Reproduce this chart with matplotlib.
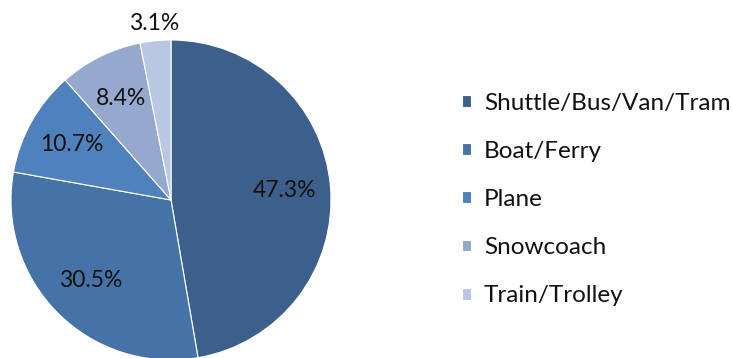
import matplotlib.pyplot as plt
import numpy as np

modes = ['Shuttle/Bus/Van/Tram', 'Boat/Ferry', 'Plane', 'Snowcoach', 'Train/Trolley']
shares = [47.3, 30.5, 10.7, 8.4, 3.1]
colors = ['#3D5F8C', '#4572A7', '#4F81BD', '#95A8CE', '#B9C7E2']

plt.rcParams['font.family'] = ['Lato', 'DejaVu Sans']

fig = plt.figure(figsize=(7.32, 3.58), dpi=100)
# square box, 320 px wide, centred on the pie
ax = fig.add_axes([11 / 732, -2 / 358, 320 / 732, 320 / 358])
wedges, _ = ax.pie(shares, colors=colors, startangle=90, counterclock=False,
                   radius=1, wedgeprops=dict(edgecolor='white', linewidth=0.8))
ax.set_xlim(-1, 1)
ax.set_ylim(-1, 1)
ax.set_aspect('equal')
ax.axis('off')

# percentage labels; the small slice gets its label outside
for w, v in zip(wedges, shares):
    mid = np.deg2rad((w.theta1 + w.theta2) / 2)
    r = 1.11 if v < 5 else 0.71
    ax.text(r * np.cos(mid), r * np.sin(mid), f'{v:.1f}%', ha='center', va='center',
            fontsize=16.5, color='#111111', clip_on=False)

fig.legend(wedges, modes, loc='center left', bbox_to_anchor=(462 / 732, 158.5 / 358),
           frameon=False, fontsize=17.5, labelspacing=1.12, handlelength=0.36,
           handleheight=0.36, handletextpad=0.55, borderpad=0, borderaxespad=0,
           labelcolor='#111111')

fig.savefig('out.png', dpi=100)
